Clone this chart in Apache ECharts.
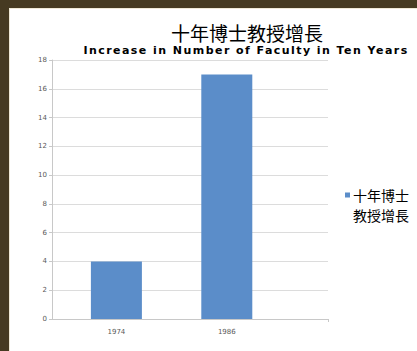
<!DOCTYPE html>
<html>
<head>
<meta charset="utf-8">
<script src="https://cdn.jsdelivr.net/npm/echarts@6/dist/echarts.min.js"></script>
<style>
  html, body { margin: 0; padding: 0; width: 417px; height: 351px; overflow: hidden; background: #463a21; }
  #frame { position: absolute; left: 9px; top: 8px; width: 408px; height: 343px; background: #efe9d6; }
  #chart { position: absolute; left: 10px; top: 9px; width: 407px; height: 342px; background: #ffffff; }
  /* the English subtitle is the only bold text; give it wide tracking */
  #chart text[style*="bold"] { letter-spacing: 1.45px; }
</style>
</head>
<body>
<div id="frame"></div>
<div id="chart"></div>
<script>
// Faculty counts by year
const years = [1974, 1986];
const facultyCounts = [4, 17];
const yearTicks = [1974, 1986];
const seriesName = '十年博士教授增長';
const titleText = '十年博士教授增長';
const subtitleText = 'Increase in Number of Faculty in Ten Years';

const chart = echarts.init(document.getElementById('chart'), null, { renderer: 'svg' });

chart.setOption({
  animation: false,
  backgroundColor: '#ffffff',
  title: [
    {
      text: titleText,
      left: 232, top: 9, textAlign: 'center',
      textStyle: { fontFamily: 'Noto Sans CJK TC', fontSize: 19, fontWeight: 'normal', color: '#000000' }
    },
    {
      text: subtitleText,
      left: 231, top: 31, textAlign: 'center',
      textStyle: { fontFamily: 'DejaVu Sans', fontSize: 11, fontWeight: 'bold', color: '#000000' }
    }
  ],
  legend: {
    left: 330, top: 151,
    itemWidth: 5, itemHeight: 5, itemGap: 4,
    icon: 'rect',
    formatter: function (name) { return '\n' + name.slice(0, 4) + '\n' + name.slice(4); },
    textStyle: { fontFamily: 'Noto Sans CJK TC', fontSize: 14, color: '#000000', lineHeight: 20, padding: [0, 0, 0, -2] }
  },
  grid: { left: 42, top: 51, right: 89, bottom: 32, containLabel: false },
  xAxis: {
    type: 'value',
    min: 1967, max: 1997,
    splitLine: { show: false },
    axisLine: { show: true, lineStyle: { color: '#c8c8c8', width: 1 } },
    axisTick: { show: true, length: 3, lineStyle: { color: '#c8c8c8' }, customValues: [1997] },
    axisLabel: {
      customValues: yearTicks,
      fontFamily: 'DejaVu Sans', fontSize: 7, color: '#595959', margin: 9,
      formatter: function (v) { return String(v); }
    }
  },
  yAxis: {
    type: 'value',
    min: 0, max: 18, interval: 2,
    axisLine: { show: true, lineStyle: { color: '#c8c8c8', width: 1 } },
    axisTick: { show: true, length: 3, lineStyle: { color: '#c8c8c8' } },
    splitLine: { show: true, lineStyle: { color: '#dcdcdc', width: 1 } },
    axisLabel: { fontFamily: 'DejaVu Sans', fontSize: 7, color: '#595959', margin: 5 }
  },
  series: [
    {
      name: seriesName,
      type: 'bar',
      barWidth: 51,
      itemStyle: { color: '#5b8dc9' },
      data: years.map(function (y, i) { return [y, facultyCounts[i]]; })
    }
  ]
});
</script>
</body>
</html>
